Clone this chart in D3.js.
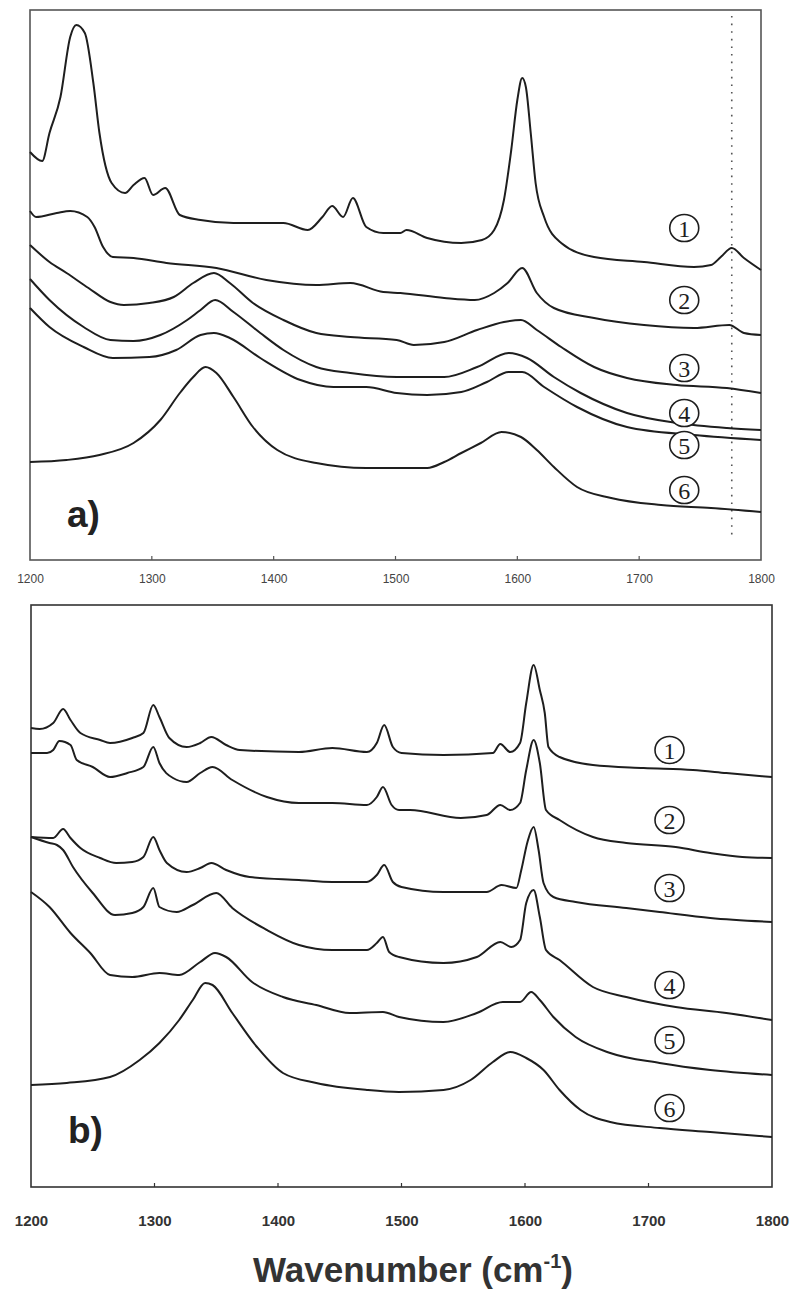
<!DOCTYPE html>
<html>
<head>
<meta charset="utf-8">
<script src="https://cdn.jsdelivr.net/npm/d3@7"></script>
<style>
  body { margin: 0; background: #fff; }
  svg { display: block; }
</style>
</head>
<body>
<div id="chart"></div>
<script>
// Raman spectra, two panels, offset traces (arbitrary intensity units)

const ticks = [1200, 1300, 1400, 1500, 1600, 1700, 1800];
const traceNames = ["1", "2", "3", "4", "5", "6"];

// panel a) — [wavenumber, intensity]
const a1 = [[1200,408],[1210,399],[1216,427],[1225,463],[1233,523],[1238,535],[1245,527],[1252,477],[1257,427],[1267,377],[1278,367],[1285,375],[1294,382],[1301,365],[1311,372],[1323,345],[1340,340],[1367,337],[1408,337],[1428,330],[1440,343],[1448,354],[1457,343],[1465,362],[1476,333],[1490,327],[1504,327],[1509,330],[1526,322],[1554,317],[1571,320],[1581,330],[1589,360],[1595,410],[1600,460],[1604,482],[1607,473],[1611,427],[1615,377],[1622,343],[1636,317],[1663,303],[1704,298],[1745,293],[1759,295],[1767,303],[1776,312],[1786,302],[1800,290]];
const a2 = [[1200,349],[1205,343],[1222,347],[1233,349],[1247,343],[1253,333],[1260,313],[1268,303],[1285,302],[1312,297],[1353,292],[1394,280],[1435,275],[1463,277],[1490,268],[1504,267],[1540,262],[1565,260],[1581,267],[1592,277],[1604,292],[1616,267],[1630,252],[1663,242],[1704,235],[1745,232],[1774,235],[1786,227],[1800,225]];
const a3 = [[1200,315],[1216,298],[1230,287],[1248,272],[1266,258],[1277,255],[1298,257],[1318,263],[1334,277],[1351,287],[1364,277],[1383,257],[1408,240],[1435,227],[1463,223],[1501,220],[1515,215],[1540,218],[1567,230],[1589,238],[1603,240],[1616,230],[1636,213],[1663,193],[1690,182],[1731,175],[1772,172],[1800,167]];
const a4 = [[1200,281],[1216,260],[1244,233],[1266,220],[1285,219],[1307,225],[1329,240],[1340,250],[1352,260],[1367,248],[1389,227],[1408,210],[1435,193],[1463,187],[1501,183],[1540,183],[1567,193],[1593,207],[1608,202],[1630,183],[1652,167],[1690,147],[1731,137],[1772,132],[1800,130]];
const a5 = [[1200,252],[1216,233],[1244,213],[1268,202],[1298,203],[1320,210],[1340,225],[1351,227],[1364,222],[1389,202],[1422,180],[1449,173],[1476,173],[1501,167],[1526,165],[1554,168],[1575,178],[1593,188],[1604,188],[1622,173],[1649,153],[1690,133],[1745,125],[1800,120]];
const a6 = [[1200,98],[1230,100],[1257,105],[1285,117],[1307,140],[1323,167],[1334,183],[1344,193],[1353,187],[1367,163],[1383,133],[1403,110],[1435,97],[1476,92],[1526,92],[1540,98],[1554,107],[1570,117],[1587,128],[1603,123],[1616,110],[1630,93],[1649,73],[1677,62],[1718,55],[1759,52],[1800,48]];

// panel b)
const b1 = [[1200,459],[1207,458],[1218,464],[1226,478],[1232,467],[1240,454],[1256,447],[1264,444],[1282,449],[1291,454],[1299,482],[1304,470],[1312,449],[1326,440],[1337,444],[1346,450],[1358,442],[1369,437],[1417,435],[1444,439],[1472,435],[1480,444],[1486,462],[1493,440],[1500,434],[1534,432],[1574,434],[1580,443],[1588,435],[1596,444],[1601,484],[1607,522],[1612,497],[1616,474],[1619,440],[1628,430],[1655,422],[1696,419],[1736,417],[1763,414],[1800,410]];
const b2 = [[1200,434],[1213,434],[1218,437],[1223,446],[1232,442],[1237,427],[1250,420],[1264,410],[1278,414],[1291,420],[1299,440],[1304,424],[1315,409],[1326,405],[1337,414],[1347,420],[1363,407],[1391,390],[1417,384],[1444,384],[1472,382],[1480,390],[1485,400],[1492,382],[1498,377],[1507,377],[1548,369],[1569,372],[1580,382],[1588,377],[1596,384],[1601,417],[1607,447],[1612,424],[1617,377],[1628,367],[1655,350],[1682,344],[1722,340],[1750,334],[1776,330],[1800,329]];
const b3 = [[1200,350],[1218,349],[1226,358],[1232,349],[1240,339],[1256,329],[1269,324],[1282,325],[1291,330],[1299,350],[1304,337],[1310,324],[1326,315],[1337,319],[1346,324],[1358,317],[1377,310],[1417,307],[1444,305],[1472,305],[1480,312],[1486,322],[1493,305],[1500,300],[1534,295],[1569,295],[1581,302],[1593,299],[1597,317],[1602,345],[1607,360],[1611,337],[1615,304],[1623,290],[1641,285],[1682,279],[1709,275],[1750,269],[1800,265]];
const b4 = [[1200,350],[1215,344],[1221,342],[1226,337],[1234,320],[1250,294],[1268,272],[1282,274],[1291,280],[1299,299],[1304,280],[1318,275],[1331,282],[1350,294],[1363,279],[1391,257],[1417,242],[1444,237],[1472,237],[1480,244],[1485,250],[1490,235],[1498,230],[1534,224],[1561,230],[1580,245],[1589,240],[1596,247],[1601,284],[1607,297],[1612,270],[1617,237],[1628,227],[1655,200],[1682,190],[1722,180],[1763,174],[1800,167]];
const b5 = [[1200,295],[1215,280],[1232,254],[1248,234],[1264,212],[1282,210],[1304,214],[1320,212],[1337,225],[1349,234],[1358,230],[1379,205],[1404,190],[1431,182],[1458,174],[1485,175],[1498,170],[1534,165],[1561,174],[1582,185],[1596,185],[1605,195],[1612,187],[1623,170],[1641,150],[1669,134],[1709,124],[1750,117],[1800,112]];
const b6 = [[1200,102],[1229,104],[1264,110],[1288,127],[1304,144],[1320,167],[1331,187],[1341,204],[1347,202],[1363,174],[1383,140],[1404,114],[1431,104],[1472,97],[1498,95],[1534,97],[1556,107],[1574,125],[1588,135],[1601,129],[1615,117],[1628,97],[1645,77],[1669,65],[1709,59],[1750,55],[1800,50]];

// where the circled trace numbers sit, [wavenumber, intensity]
const aMarks = [[1737,332],[1737,260],[1737,192],[1737,147],[1737,115],[1737,70]];
const bMarks = [[1717,437],[1717,367],[1717,299],[1717,202],[1717,147],[1717,79]];

const W = 794, H = 1291;
const ink = "#1e1e1e";

const svg = d3.select("#chart").append("svg")
  .attr("width", W)
  .attr("height", H)
  .attr("viewBox", [0, 0, W, H]);

function drawPanel(opt) {
  const x = d3.scaleLinear().domain([1200, 1800]).range([opt.left, opt.right]);
  const y = d3.scaleLinear().domain([0, opt.ymax]).range([opt.bottom, opt.top]);
  const g = svg.append("g");

  // frame
  g.append("rect")
    .attr("x", opt.left).attr("y", opt.top)
    .attr("width", opt.right - opt.left).attr("height", opt.bottom - opt.top)
    .attr("fill", "none")
    .attr("stroke", opt.frame)
    .attr("stroke-width", 1.6);

  // labels below, small inward ticks
  const axis = d3.axisBottom(x).tickValues(ticks).tickFormat(d3.format("d"))
    .tickSize(0).tickPadding(opt.pad);
  const ax = g.append("g").attr("transform", `translate(0,${opt.bottom})`).call(axis);
  ax.select(".domain").remove();
  ax.selectAll("text")
    .attr("font-family", "Liberation Sans, Arial, sans-serif")
    .attr("font-size", opt.tickFont)
    .attr("font-weight", opt.tickWeight)
    .attr("fill", opt.tickColor);
  g.selectAll(".inTick")
    .data(ticks.slice(1, -1))
    .join("line")
    .attr("x1", d => x(d)).attr("x2", d => x(d))
    .attr("y1", opt.bottom).attr("y2", opt.bottom - 4)
    .attr("stroke", opt.frame).attr("stroke-width", 1.2);

  if (opt.dotted) {
    g.append("line")
      .attr("x1", x(opt.dotted)).attr("x2", x(opt.dotted))
      .attr("y1", opt.top + 6).attr("y2", opt.bottom - 22)
      .attr("stroke", "#555").attr("stroke-width", 1.6)
      .attr("stroke-dasharray", "1.6,6");
  }

  const line = d3.line().curve(d3.curveMonotoneX)
    .x(d => x(d[0])).y(d => y(d[1]));
  g.selectAll(".trace")
    .data(opt.series)
    .join("path")
    .attr("d", line)
    .attr("fill", "none")
    .attr("stroke", ink)
    .attr("stroke-width", 2)
    .attr("stroke-linejoin", "round");

  // circled numbers
  const m = g.selectAll(".mark")
    .data(opt.marks)
    .join("g")
    .attr("transform", (d) => `translate(${x(d[0])},${y(d[1])})`);
  m.append("ellipse").attr("rx", 14.5).attr("ry", 13.5).attr("fill", "#fff")
    .attr("stroke", ink).attr("stroke-width", 1.6);
  m.append("text")
    .attr("text-anchor", "middle")
    .attr("dy", "0.36em")
    .attr("font-family", "Liberation Serif, Times New Roman, serif")
    .attr("font-size", 24)
    .attr("fill", ink)
    .text((d, i) => traceNames[i]);

  // panel letter
  g.append("text")
    .attr("x", opt.left + 37).attr("y", opt.letterY)
    .attr("font-family", "Liberation Sans, Arial, sans-serif")
    .attr("font-size", 37)
    .attr("font-weight", "bold")
    .attr("fill", "#222")
    .text(opt.letter);
}

drawPanel({
  left: 30, right: 761, top: 10, bottom: 560, ymax: 550,
  frame: "#555", pad: 14, tickFont: 12, tickWeight: "normal", tickColor: "#444",
  series: [a1, a2, a3, a4, a5, a6], marks: aMarks,
  dotted: 1776, letter: "a)", letterY: 527
});

drawPanel({
  left: 31, right: 772, top: 605, bottom: 1187, ymax: 582,
  frame: "#333", pad: 28, tickFont: 15, tickWeight: "bold", tickColor: "#333",
  series: [b1, b2, b3, b4, b5, b6], marks: bMarks,
  letter: "b)", letterY: 1143
});

// shared x-axis title
const title = svg.append("text")
  .attr("x", 413).attr("y", 1282)
  .attr("text-anchor", "middle")
  .attr("font-family", "Liberation Sans, Arial, sans-serif")
  .attr("font-size", 35)
  .attr("font-weight", "bold")
  .attr("fill", "#333");
title.append("tspan").text("Wavenumber (cm");
title.append("tspan").attr("font-size", 20).attr("dy", -14).text("-1");
title.append("tspan").attr("dy", 14).text(")");
</script>
</body>
</html>
